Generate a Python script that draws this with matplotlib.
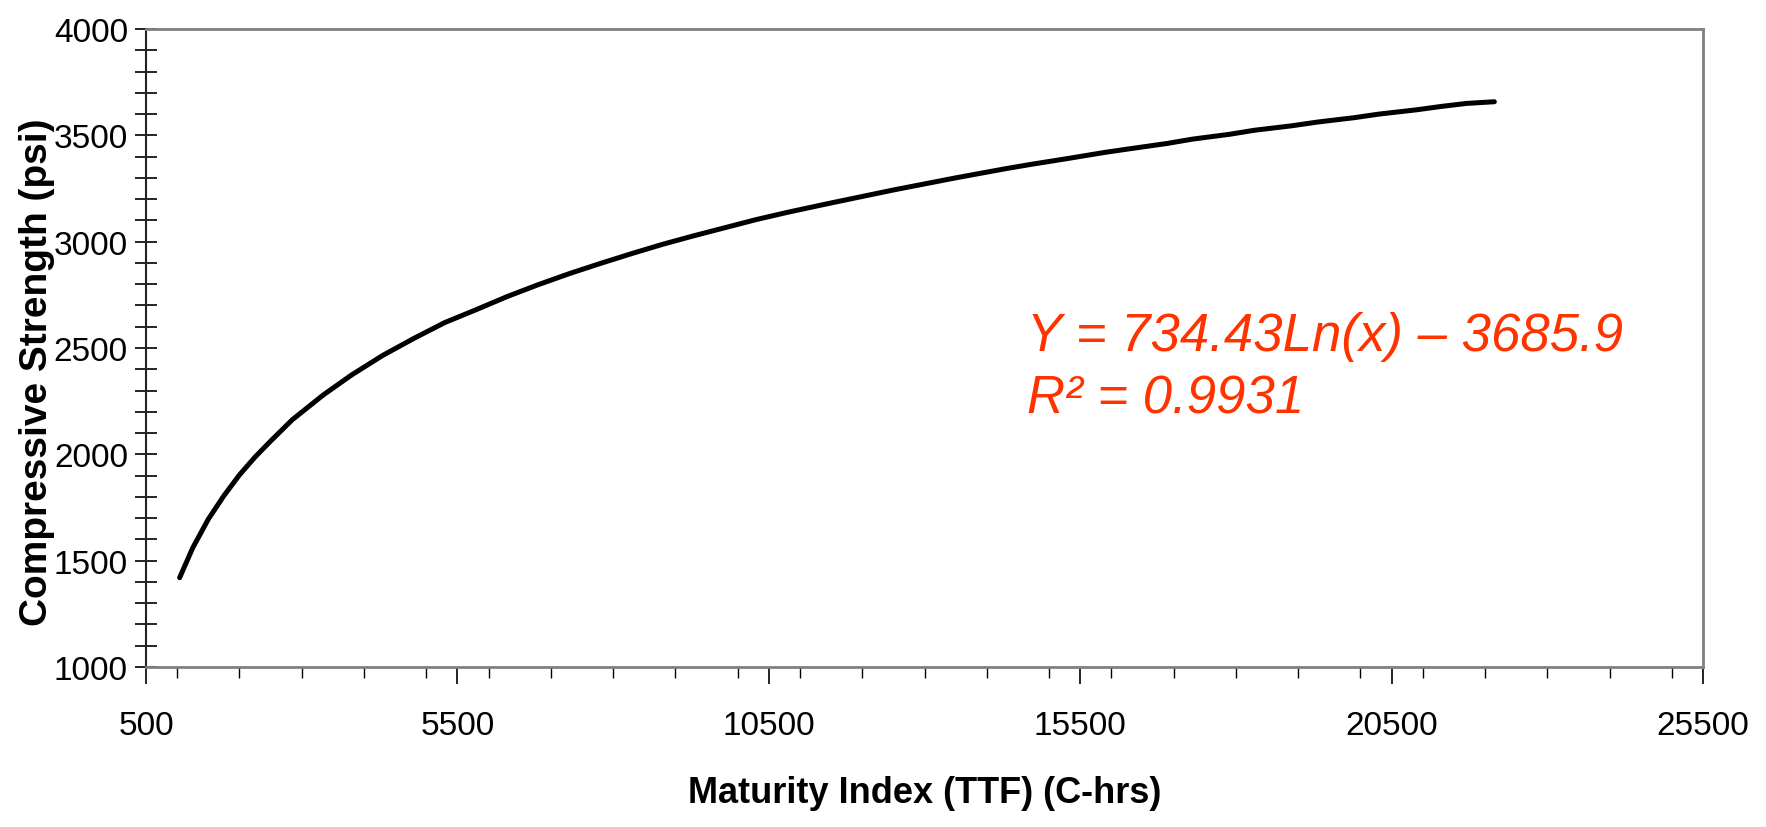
import matplotlib
matplotlib.use("Agg")
import matplotlib.pyplot as plt
from matplotlib.ticker import MultipleLocator
from matplotlib import font_manager

# values
maturity = [1040, 1250, 1500, 1750, 2000, 2250, 2500, 2850, 3350, 3800,
            4300, 4800, 5300, 5800, 6300, 6800, 7300, 7800, 8300, 8800,
            9300, 9800, 10300, 10800, 11500, 12500, 13500, 14300, 14700, 15300,
            15900, 16300, 16900, 17300, 17900, 18300, 18900, 19300, 19900, 20300,
            20900, 21300, 21700, 22150]
strength = [1420, 1560, 1695, 1805, 1903, 1987, 2062, 2163, 2280, 2373,
            2465, 2545, 2620, 2680, 2742, 2798, 2850, 2898, 2944, 2988,
            3028, 3066, 3104, 3138, 3182, 3243, 3300, 3343, 3363, 3391,
            3420, 3437, 3462, 3482, 3505, 3524, 3545, 3562, 3583, 3600,
            3620, 3636, 3650, 3658]

x_ticks = [500, 5500, 10500, 15500, 20500, 25500]
y_ticks = [1000, 1500, 2000, 2500, 3000, 3500, 4000]

eq_text = "Y = 734.43Ln(x) \u2013 3685.9"
r2_text = "R\u00b2 = 0.9931"

available = {f.name for f in font_manager.fontManager.ttflist}
narrow = "Liberation Sans Narrow" in available

plt.rcParams["font.family"] = ["Liberation Sans", "DejaVu Sans"]

fig = plt.figure(figsize=(17.66, 8.28), dpi=100)
ax = fig.add_axes([146 / 1766, 1 - 668 / 828, (1703 - 146) / 1766, (668 - 30) / 828])

ax.plot(maturity, strength, color="black", linewidth=3.6, solid_capstyle="round",
        solid_joinstyle="round")

ax.set_xlim(500, 25500)
ax.set_ylim(1000, 4000)
ax.set_xticks(x_ticks)
ax.set_yticks(y_ticks)
ax.xaxis.set_minor_locator(MultipleLocator(1000))
ax.yaxis.set_minor_locator(MultipleLocator(100))

ax.tick_params(axis="x", which="major", direction="out", length=12, width=1.2,
               pad=19, labelsize=24)
ax.tick_params(axis="x", which="minor", direction="out", length=8, width=1.0)
ax.tick_params(axis="y", which="both", direction="inout", length=16, width=1.2,
               pad=5, labelsize=24)

for side in ["top", "right", "bottom"]:
    ax.spines[side].set_color("#808080")
    ax.spines[side].set_linewidth(2)
ax.spines["left"].set_color("#222222")
ax.spines["left"].set_linewidth(1.5)

if narrow:
    fig.text(925 / 1766, 1 - 803 / 828, "Maturity Index (TTF) (C-hrs)",
             family="Liberation Sans Narrow", fontweight="bold", fontsize=31,
             ha="center", va="baseline")
else:
    fig.text(925 / 1766, 1 - 803 / 828, "Maturity Index (TTF) (C-hrs)",
             fontweight="bold", fontsize=26, ha="center", va="baseline")

fig.text(37 / 1766, 1 - 372 / 828, "Compressive Strength (psi)",
         fontweight="bold", fontsize=28, rotation=90, ha="center", va="center")

fig.text(1027 / 1766, 1 - 351 / 828, eq_text, color="#FF3300", style="italic",
         fontsize=38, ha="left", va="baseline")
fig.text(1027 / 1766, 1 - 414 / 828, r2_text, color="#FF3300", style="italic",
         fontsize=38, ha="left", va="baseline")

fig.savefig("out.png", dpi=100)
